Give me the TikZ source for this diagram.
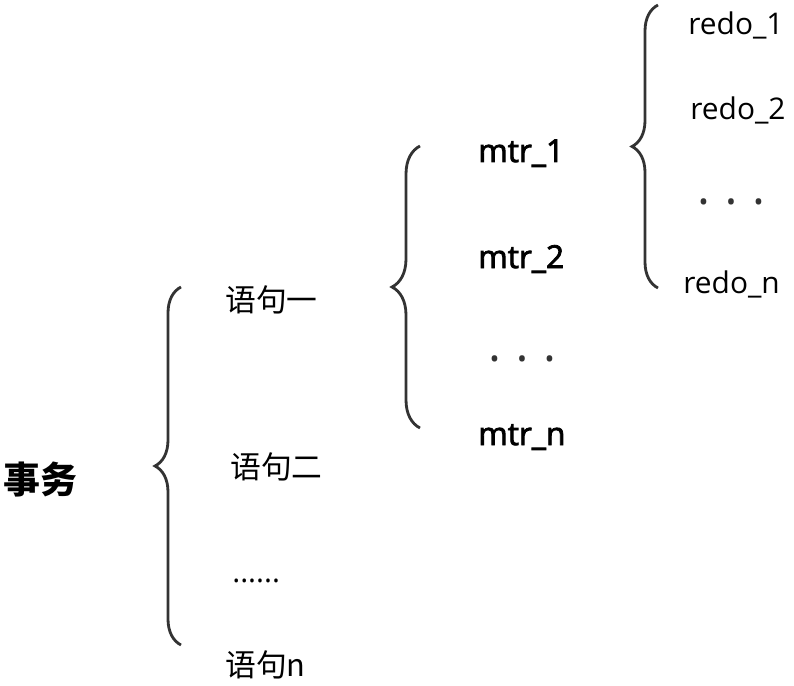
\documentclass[tikz,border=0pt]{standalone}
\usepackage{fontspec}
\setmainfont{Open Sans}
\newfontfamily\cjk{Noto Sans CJK SC}
\newfontfamily\semibold[FakeBold=2.5]{Open Sans}
\usepackage{tikz}
\usetikzlibrary{decorations.pathreplacing}

\begin{document}
\begin{tikzpicture}[
    brace/.style={
        decorate,
        decoration={brace, amplitude=0.52cm},
        draw=black!80,
        line width=1.6pt
    },
    stmt/.style={
        anchor=west,
        inner sep=0pt,
        font=\cjk\fontsize{17.5}{20}\selectfont
    },
    mtr/.style={
        anchor=base west,
        inner sep=0pt,
        font=\semibold\fontsize{18}{21}\selectfont
    },
    redo/.style={
        anchor=base west,
        inner sep=0pt,
        font=\fontsize{17}{20}\selectfont
    },
    dotrow/.style={
        inner sep=0pt,
        text=black!80,
        font=\fontsize{15}{17}\selectfont
    }
]
\useasboundingbox (0,0) rectangle (15.88,13.7);

% level 1
\node[anchor=west, inner sep=0pt, font=\cjk\bfseries\fontsize{21}{24}\selectfont] (trx) at (0.06,4.1) {事务};

% level 2
\node[stmt] (s1) at (4.5,7.7) {语句一};
\node[stmt] (s2) at (4.6,4.36) {语句二};
\node[anchor=west, inner sep=0pt, font=\fontsize{17}{20}\selectfont] (sdots) at (4.64,2.08) {......};
\node[stmt] (sn) at (4.5,0.4) {语句n};

% level 3
\node[mtr] (m1) at (9.56,10.46) {mtr\_1};
\node[mtr] (m2) at (9.56,8.34) {mtr\_2};
\node[dotrow] (mdots) at (10.44,6.46) {•\hspace{10pt}•\hspace{10pt}•};
\node[mtr] (mn) at (9.56,4.8) {mtr\_n};

% level 4
\node[redo] (r1) at (13.76,13.0) {redo\_1};
\node[redo] (r2) at (13.8,11.3) {redo\_2};
\node[dotrow] (rdots) at (14.62,9.6) {•\hspace{10pt}•\hspace{10pt}•};
\node[redo] (rn) at (13.66,7.84) {redo\_n};

% braces
\coordinate (b1top) at (3.62,7.96);
\coordinate (b1bot) at (3.62,0.8);
\coordinate (b2top) at (8.4,10.78);
\coordinate (b2bot) at (8.4,5.14);
\coordinate (b3top) at (13.16,13.6);
\coordinate (b3bot) at (13.16,7.94);

\draw[brace] (b1bot) -- (b1top);
\draw[brace, decoration={amplitude=0.56cm}] (b2bot) -- (b2top);
\draw[brace] (b3bot) -- (b3top);

\end{tikzpicture}
\end{document}
